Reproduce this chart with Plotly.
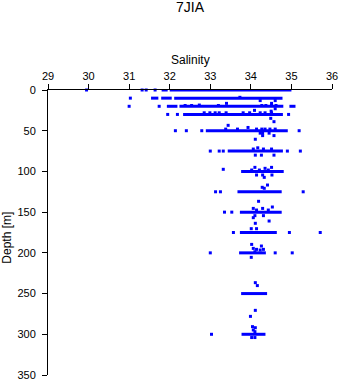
import plotly.graph_objects as go

# Dense sampling shown as horizontal bars: depth, salinity start, salinity end
seg_depth = [0, 0, 10, 10, 10, 20, 20, 20, 30, 50, 75, 100, 125, 150, 175, 200, 250, 300]
seg_start = [31.80, 32.00, 31.54, 31.79, 32.11, 31.93, 32.24, 34.95, 32.33, 32.89, 33.43, 33.76, 33.67, 33.73, 33.73, 33.71, 33.76, 33.77]
seg_end   = [31.95, 35.00, 31.72, 32.05, 34.78, 32.19, 34.80, 35.10, 34.79, 34.91, 34.79, 34.81, 34.76, 34.76, 34.64, 34.37, 34.40, 34.36]

# Individual observations
pt_sal = [29.95, 31.32, 31.42, 31.64,
          31.03, 33.73, 34.23, 34.60,
          31.00, 31.74, 32.38, 32.54, 32.73, 33.20, 34.27, 34.37, 34.51, 34.62, 33.40, 34.51, 34.09, 34.60,
          31.95, 32.19, 34.93, 32.85, 32.99, 33.12, 33.22, 33.39, 33.81, 33.97, 34.23, 34.35, 34.51, 34.50, 34.49, 34.57,
          33.44,
          32.14, 32.41, 32.79, 35.19, 33.38, 33.67, 33.93, 34.14, 34.27, 34.35, 34.47, 34.60, 34.23, 34.29, 34.45, 34.29, 34.57, 34.11,
          33.00, 33.22, 33.32, 34.90, 35.22, 34.17, 34.06, 34.31, 34.51, 34.11, 34.26, 34.57,
          33.32, 34.10, 34.35, 34.51, 34.14, 34.29, 34.33, 34.52, 34.02, 34.21, 34.43,
          33.13, 33.25, 35.29, 34.28, 34.33, 34.41,
          34.19,
          33.35, 33.53, 34.53, 34.06, 34.29, 34.43, 34.14, 34.10, 34.31, 34.06,
          34.11, 34.45, 34.01, 34.14,
          33.57, 34.95, 35.71,
          34.02, 34.26, 34.06, 34.14, 34.23, 34.31, 34.10,
          33.00, 34.60, 35.02, 34.01,
          34.11, 34.16,
          34.11, 33.99, 34.04, 34.11, 34.06, 34.10,
          33.03, 34.02, 34.10]
pt_dep = [0, 0, 0, 0,
          10, 9, 13, 13,
          20, 20, 19, 19, 18.5, 19, 19, 19, 19, 19, 16.4, 16.4, 25, 23,
          30, 30, 30, 28, 28, 28, 28, 28, 28, 28, 28, 28, 28, 26, 34.8, 38.9,
          43.4,
          50, 50, 50, 50, 48, 48, 46, 48, 48, 48, 48, 48, 53, 53, 53, 56, 56, 60.5,
          75, 75, 75, 75, 75, 71, 72.5, 72.5, 72.5, 80, 80, 80,
          97.4, 95, 96.2, 95, 104.4, 104.4, 107.3, 104.4, 98.3, 98.3, 98.3,
          125, 125, 125, 119.5, 120.7, 116.7,
          136.7,
          150, 150, 143.7, 145.4, 145.4, 147.4, 147.4, 154.3, 154.3, 156.8,
          163.7, 160.9, 170.3, 170.3,
          175, 175, 175,
          189.6, 191.6, 194.5, 195.7, 196.5, 195.7, 198.6,
          200, 200, 200, 205.5,
          236.6, 240.2,
          270.6, 278, 290.6, 291.9, 294.7, 296.8,
          300, 304, 304]

x_ticks = [29, 30, 31, 32, 33, 34, 35, 36]
y_ticks = [0, 50, 100, 150, 200, 250, 300, 350]

blue = "#0000ff"
font = "Liberation Sans, Arial, sans-serif"

seg_x, seg_y = [], []
for d, a, b in zip(seg_depth, seg_start, seg_end):
    seg_x += [a, b, None]
    seg_y += [d, d, None]

fig = go.Figure()
fig.add_trace(go.Scatter(x=seg_x, y=seg_y, mode="lines",
                         line=dict(color=blue, width=3), hoverinfo="skip",
                         cliponaxis=False))
fig.add_trace(go.Scatter(x=pt_sal, y=pt_dep, mode="markers",
                         marker=dict(color=blue, size=3, symbol="square",
                                     line=dict(width=0)),
                         cliponaxis=False))

axis_common = dict(showline=True, linecolor="black", linewidth=1,
                   ticks="outside", ticklen=5, tickcolor="black", tickwidth=1,
                   showgrid=False, zeroline=False, automargin=False,
                   tickfont=dict(size=11, family=font, color="black"))

fig.update_layout(
    template="none",
    width=341, height=384,
    margin=dict(l=48, r=9, t=90, b=9, autoexpand=False),
    paper_bgcolor="white", plot_bgcolor="white",
    showlegend=False,
    font=dict(family=font, size=11, color="black"),
    title=dict(text="7JIA", x=190/341, xanchor="center", xref="container",
               y=1 - 2/384, yanchor="top", yref="container",
               font=dict(size=14, family=font, color="black")),
    xaxis=dict(side="top", range=[29, 36], tickvals=x_ticks,
               ticktext=[str(v) for v in x_ticks], **axis_common),
    yaxis=dict(range=[350, 0], tickvals=y_ticks, ticklabelstandoff=4,
               ticktext=[str(v) for v in y_ticks], **axis_common),
    annotations=[
        dict(text="Salinity", xref="paper", yref="paper", x=0.5, y=(375-60)/285,
             xanchor="center", yanchor="middle", showarrow=False,
             font=dict(size=12, family=font, color="black")),
        dict(text="Depth [m]", xref="paper", yref="paper", x=(6.7-48)/284,
             y=(375-238)/285, xanchor="center", yanchor="middle",
             textangle=-90, showarrow=False,
             font=dict(size=12, family=font, color="black")),
    ],
)

fig.write_html("out.html")
